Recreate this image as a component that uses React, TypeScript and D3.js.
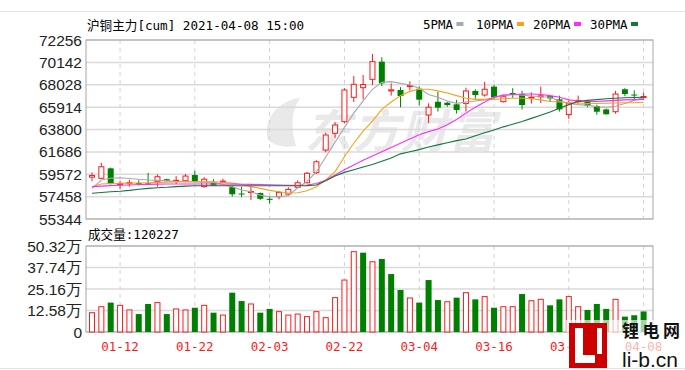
import React from "react";
import * as d3 from "d3";

// trading days shown on the chart
const dates = [
  "01-07", "01-08", "01-11", "01-12", "01-13", "01-14", "01-15", "01-18", "01-19", "01-20",
  "01-21", "01-22", "01-25", "01-26", "01-27", "01-28", "01-29", "02-01", "02-02", "02-03",
  "02-04", "02-05", "02-08", "02-09", "02-10", "02-18", "02-19", "02-22", "02-23", "02-24",
  "02-25", "02-26", "03-01", "03-02", "03-03", "03-04", "03-05", "03-08", "03-09", "03-10",
  "03-11", "03-12", "03-15", "03-16", "03-17", "03-18", "03-19", "03-22", "03-23", "03-24",
  "03-25", "03-26", "03-29", "03-30", "03-31", "04-01", "04-02", "04-06", "04-07", "04-08",
];

const openPrice = [
  59300, 59190, 60130, 58600, 58700, 58740, 58700, 58870, 59100, 58950,
  58960, 59500, 58400, 58800, 58890, 58350, 57750, 57850, 57800, 57250,
  57450, 57700, 58340, 58770, 59720, 61860, 63440, 64540, 66840, 67750,
  68540, 70210, 67450, 67530, 67880, 67650, 65170, 66420, 66330, 66180,
  66270, 67440, 67060, 67850, 66430, 67250, 67150, 66800, 66930, 66960,
  66650, 65210, 66480, 66400, 66020, 65700, 65480, 67600, 67100, 66850,
];
const closePrice = [
  59450, 60280, 58650, 58700, 58780, 58720, 58650, 59340, 58950, 59000,
  59400, 58870, 59100, 58500, 58920, 57680, 57680, 57950, 57250, 57150,
  57860, 58140, 58770, 59660, 60750, 63280, 64220, 67530, 68070, 68050,
  70210, 68160, 67550, 66960, 67950, 66620, 65900, 65860, 66110, 65640,
  67440, 67060, 67600, 66840, 66900, 67200, 66110, 66850, 66980, 66740,
  65700, 66270, 66550, 66050, 65480, 65240, 67150, 67150, 67050, 66920,
];
const highPrice = [
  59750, 60660, 60200, 58950, 59050, 59000, 59700, 59560, 59150, 59400,
  59600, 59900, 59300, 59100, 59150, 58500, 58400, 58450, 57850, 57450,
  58000, 58350, 59000, 59800, 60900, 63500, 64500, 67700, 68850, 68950,
  70930, 70620, 68160, 67800, 68350, 67880, 66270, 67370, 66420, 66600,
  67750, 67600, 68310, 68000, 67100, 67700, 67450, 67300, 67850, 67050,
  67000, 66560, 67000, 66550, 66150, 65780, 67450, 67700, 67500, 67300,
];
const lowPrice = [
  58900, 59100, 58600, 58150, 58400, 58500, 58600, 58400, 58900, 58650,
  58800, 58800, 58300, 58450, 58750, 57450, 57400, 57150, 57150, 56800,
  57200, 57600, 58250, 58700, 59600, 61650, 63000, 64400, 66400, 66650,
  68000, 67900, 67000, 65900, 67500, 66100, 64380, 65500, 65950, 65300,
  65480, 66700, 66900, 66700, 66350, 66800, 65700, 66250, 66300, 66400,
  65500, 64800, 66200, 65900, 65200, 65200, 65300, 66950, 66600, 66600,
];

const volume = [
  113000, 148000, 172000, 156000, 129000, 105000, 164000, 172000, 105000, 135000,
  129000, 142000, 156000, 113000, 99000, 230000, 181000, 164000, 113000, 135000,
  119000, 99000, 105000, 90000, 119000, 84000, 201000, 304000, 470000, 464000,
  411000, 427000, 339000, 246000, 199000, 172000, 304000, 187000, 177000, 201000,
  230000, 191000, 207000, 142000, 148000, 148000, 222000, 183000, 191000, 156000,
  191000, 207000, 148000, 129000, 164000, 135000, 191000, 90000, 98000, 120227,
];

const ma5 = [
  58240, 59030, 59200, 59240, 59170, 59100, 59030, 58990, 58950, 58900,
  58870, 58850, 58830, 58800, 58600, 58400, 58080, 57920, 57600, 57450,
  57450, 57550, 58300, 58900, 59800, 61200, 62600, 64000, 65350, 66500,
  67600, 68250, 68320, 68160, 68000, 67700, 67100, 66850, 66500, 66270,
  66400, 66500, 66600, 66850, 67000, 67120, 67050, 66960, 66900, 66850,
  66500, 66250, 66150, 66100, 65950, 65900, 66000, 66250, 66550, 66800,
];
const ma10 = [
  58400, 58650, 58700, 58720, 58730, 58750, 58770, 58800, 58820, 58850,
  58870, 58870, 58870, 58870, 58820, 58730, 58600, 58400, 58240, 58050,
  57920, 57800, 57830, 58020, 58400, 59030, 59820, 61230, 62500, 63650,
  64600, 65700, 66400, 67000, 67400, 67600, 67600, 67450, 67250, 67000,
  66750, 66650, 66650, 66650, 66700, 66750, 66750, 66700, 66600, 66450,
  66400, 66350, 66300, 66250, 66250, 66280, 66300, 66330, 66330, 66350,
];
const ma20 = [
  58400, 58450, 58500, 58530, 58560, 58600, 58620, 58640, 58650, 58650,
  58650, 58650, 58650, 58650, 58650, 58640, 58630, 58620, 58600, 58580,
  58550, 58530, 58530, 58550, 58700, 59000, 59500, 60000, 60450, 60900,
  61300, 61700, 62100, 62500, 62900, 63300, 63600, 63850, 64250, 64750,
  65350, 65900, 66400, 66850, 67050, 67100, 67150, 67150, 67100, 67000,
  66850, 66600, 66500, 66450, 66450, 66500, 66550, 66600, 66620, 66650,
];
const ma30 = [
  57770, 57850, 57920, 57970, 58050, 58150, 58240, 58300, 58340, 58400,
  58450, 58480, 58490, 58490, 58490, 58490, 58490, 58490, 58490, 58490,
  58490, 58490, 58490, 58500, 58550, 58950, 59400, 59750, 60000, 60250,
  60500, 60800, 61100, 61500, 61700, 61900, 62150, 62350, 62550, 62750,
  62900, 63200, 63500, 63750, 64050, 64300, 64550, 64850, 65150, 65450,
  65800, 66150, 66450, 66550, 66620, 66700, 66750, 66800, 66820, 66840,
];

const priceTicks = [72256, 70142, 68028, 65914, 63800, 61686, 59572, 57458, 55344];
const volTicks = [0, 125800, 251600, 377400, 503200];
const volTickLabels = ["0", "12.58万", "25.16万", "37.74万", "50.32万"];
const dateTicks = ["01-12", "01-22", "02-03", "02-22", "03-04", "03-16", "03-26", "04-08"];

const legend = [
  { name: "5PMA", data: ma5, color: "#a8a8a8" },
  { name: "10PMA", data: ma10, color: "#f5a31a" },
  { name: "20PMA", data: ma20, color: "#ff2bff" },
  { name: "30PMA", data: ma30, color: "#13773a" },
];
const legendX = [423, 476, 533, 590];

const RED = "#ff1a1a";
const GREEN = "#008000";
const numFont = "'Liberation Sans', Arial, sans-serif";
const monoFont = "'DejaVu Sans Mono', 'Noto Sans CJK SC', monospace";

function App() {
  const left = 86, right = 653;
  const top = 40, bottom = 219;
  const vTop = 246, vBottom = 332;

  const x = d3.scalePoint().domain(dates).range([92, 643.6]);
  const y = d3.scaleLinear().domain([55344, 72256]).range([bottom, top]);
  const yv = d3.scaleLinear().domain([0, 503200]).range([vBottom, vTop]);
  const bw = 6;

  const line = d3
    .line()
    .x((d, i) => x(dates[i]))
    .y((d) => y(d));

  return (
    <svg
      width={685}
      height={370}
      style={{ position: "absolute", left: 0, top: 0, background: "#fff" }}
    >
      <line x1={0} x2={685} y1={11.5} y2={11.5} stroke="#e4e4e4" />
      <line x1={0} x2={685} y1={368.5} y2={368.5} stroke="#e4e4e4" />

      {/* background watermark */}
      <g fill="#e9e9e9">
        <path d="M268,140 C262,118 280,100 300,98 C292,110 290,125 296,146 C286,148 274,146 268,140 Z" />
        <text x={305} y={148} fontSize={46} fontWeight="bold" fontStyle="italic"
          fontFamily="'Noto Sans CJK SC', sans-serif" letterSpacing={2}>
          东方财富
        </text>
      </g>

      {/* title and legend */}
      <text x={87} y={30} fontSize={12.6} fontFamily={monoFont} fill="#000">
        沪铜主力[cum] 2021-04-08 15:00
      </text>
      {legend.map((l, i) => (
        <g key={l.name}>
          <text x={legendX[i]} y={29} fontSize={12.5} fontFamily={monoFont} fill="#000">
            {l.name}
          </text>
          <rect x={legendX[i] + l.name.length * 7.6 + 3} y={22} width={7} height={4} fill={l.color} />
        </g>
      ))}

      {/* main panel grid */}
      {priceTicks.map((t) => (
        <g key={t}>
          <line x1={left} x2={right} y1={y(t)} y2={y(t)} stroke="#dadada" strokeWidth={1.5} />
          <text x={82} y={y(t)} dy="0.36em" textAnchor="end" fontSize={15.5}
            fontFamily={numFont} fill="#222">
            {t}
          </text>
        </g>
      ))}
      {volTicks.map((t, i) => (
        <g key={t}>
          <line x1={left} x2={right} y1={yv(t)} y2={yv(t)} stroke="#dadada" strokeWidth={1.5} />
          <text x={82} y={yv(t)} dy="0.36em" textAnchor="end" fontSize={15.5}
            fontFamily={numFont} fill="#222">
            {volTickLabels[i]}
          </text>
        </g>
      ))}
      {dateTicks.map((d) => (
        <g key={d}>
          <line x1={x(d)} x2={x(d)} y1={top} y2={bottom} stroke="#d2d2d2" strokeDasharray="4,4" />
          <line x1={x(d)} x2={x(d)} y1={vTop} y2={vBottom} stroke="#d2d2d2" strokeDasharray="4,4" />
          <text x={x(d)} y={351} textAnchor="middle" fontSize={12.5}
            fontFamily={monoFont} fill={RED}>
            {d}
          </text>
        </g>
      ))}
      <rect x={left} y={top} width={right - left} height={bottom - top} fill="none" stroke="#a6a6a6" />
      <rect x={left} y={vTop} width={right - left} height={vBottom - vTop} fill="none" stroke="#a6a6a6" />

      {/* candles */}
      {dates.map((d, i) => {
        const cx = x(d);
        const o = openPrice[i], c = closePrice[i];
        const up = c > o;
        const yTop = y(Math.max(o, c));
        const yBot = y(Math.min(o, c));
        const h = Math.max(1, yBot - yTop);
        if (up) {
          return (
            <g key={d} stroke={RED} fill="#fff">
              <line x1={cx} x2={cx} y1={y(highPrice[i])} y2={yTop} />
              <line x1={cx} x2={cx} y1={yTop + h} y2={y(lowPrice[i])} />
              <rect x={cx - bw / 2 + 0.5} y={yTop} width={bw - 1} height={h} />
            </g>
          );
        }
        return (
          <g key={d}>
            <line x1={cx} x2={cx} y1={y(highPrice[i])} y2={y(lowPrice[i])} stroke={GREEN} />
            <rect x={cx - bw / 2} y={yTop} width={bw} height={h} fill={GREEN} />
          </g>
        );
      })}

      {/* moving averages */}
      {legend.map((l) => (
        <path key={l.name} d={line(l.data)} fill="none" stroke={l.color} strokeWidth={1.1} />
      ))}

      {/* volume */}
      <text x={88} y={239} fontSize={12.6} fontFamily={monoFont} fill="#000">
        成交量:120227
      </text>
      {dates.map((d, i) => {
        const cx = x(d);
        const up = i === 0 || closePrice[i] > closePrice[i - 1];
        const yy = yv(volume[i]);
        return up ? (
          <rect key={d} x={cx - bw / 2 + 0.5} y={yy} width={bw - 1} height={vBottom - yy}
            fill="#fff" stroke={RED} />
        ) : (
          <rect key={d} x={cx - bw / 2} y={yy} width={bw} height={vBottom - yy} fill={GREEN} />
        );
      })}

      {/* li-b.cn watermark */}
      <rect x={566} y={320} width={119} height={48} fill="#fff" opacity={0.65} />
      <g>
        <rect x={569} y={323} width={38} height={45} fill="#cc0000" />
        <rect x={575} y={328} width={8} height={35} fill="#fff" />
        <rect x={575} y={355} width={20} height={8} fill="#fff" />
        <rect x={597} y={328} width={5} height={26} fill="#fff" />
        <text x={622} y={337} fontSize={17} fontWeight="bold" letterSpacing={3.5}
          fontFamily="'Noto Sans CJK SC', sans-serif" fill="#111">
          锂电网
        </text>
        <text x={622} y={367} fontSize={21} fontFamily={numFont} fill="#111">
          li-b.cn
        </text>
      </g>
    </svg>
  );
}

export default App;
